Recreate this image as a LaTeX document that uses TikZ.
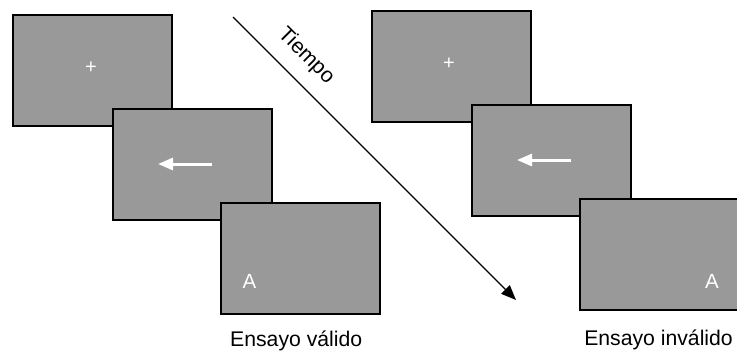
\documentclass[tikz,border=0pt]{standalone}
\usepackage{fontspec}
\setmainfont{Liberation Sans}
\usetikzlibrary{arrows.meta}
\begin{document}
\begin{tikzpicture}[x=1pt,y=-1pt,
  scr/.style={draw=black, fill=scrgray, line width=2pt, minimum width=159pt, minimum height=111pt, inner sep=0pt, anchor=north west},
  wtxt/.style={text=white, inner sep=0pt, font=\fontsize{20.5}{24}\selectfont},
  plus/.style={text=white, inner sep=0pt, font=\fontsize{20}{24}\selectfont},
  cue/.style={draw=white, line width=3pt, -{Triangle[length=15pt,width=12pt]}},
  lbl/.style={inner sep=0pt, font=\fontsize{21.2}{24}\selectfont},
  timeline/.style={draw=black, line width=1.4pt, -{Triangle[length=15pt,width=12pt]}}
]
\definecolor{scrgray}{HTML}{999999}
\useasboundingbox (0,0) rectangle (737,351);
% left trial
\node[scr] (l1) at (12,14) {};
\node[scr] (l2) at (112,108) {};
\node[scr] (l3) at (220,202) {};
\node[plus] (lp) at (91,67.5) {+};
\coordinate (lae) at (212,164);
\coordinate (las) at (158,164);
\draw[cue] (lae) -- (las);
\node[wtxt] (la) at (249.5,281) {A};
\node[lbl, anchor=base west] (lv) at (230,346.5) {Ensayo válido};
% time arrow
\coordinate (t0) at (233,17);
\coordinate (t1) at (516,300);
\draw[timeline] (t0) -- (t1);
\node[lbl, rotate=-45] (tt) at (306,56) {Tiempo};
% right trial
\node[scr] (r1) at (371,10) {};
\node[scr] (r2) at (471,104) {};
\node[scr] (r3) at (579,198) {};
\node[plus] (rp) at (449,63.5) {+};
\coordinate (rae) at (571,160);
\coordinate (ras) at (517,160);
\draw[cue] (rae) -- (ras);
\node[wtxt] (ra) at (712,281) {A};
\node[lbl, anchor=base east] (ri) at (733,345.5) {Ensayo inválido};
\end{tikzpicture}
\end{document}
